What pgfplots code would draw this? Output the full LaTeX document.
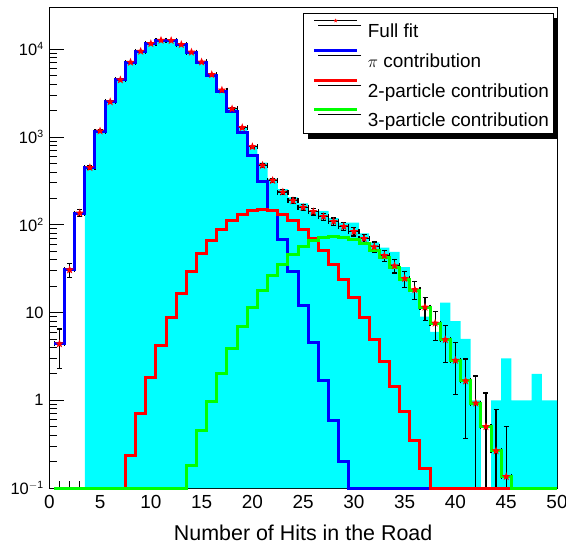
\documentclass[border=0pt]{standalone}
\usepackage{fontspec}
\setmainfont{Liberation Sans}
\usepackage{pgfplots}
\pgfplotsset{compat=1.18}
\usepackage{pgfplotstable}
\usetikzlibrary{shadows}

\definecolor{rootcyan}{RGB}{0,255,255}
\definecolor{rootblue}{RGB}{0,0,255}
\definecolor{rootred}{RGB}{255,0,0}
\definecolor{rootgreen}{RGB}{0,255,0}

% filled five-pointed star marker
\pgfdeclareplotmark{fstar}{%
  \pgfpathmoveto{\pgfpointpolar{90}{\pgfplotmarksize}}%
  \pgfpathlineto{\pgfpointpolar{126}{0.42\pgfplotmarksize}}%
  \pgfpathlineto{\pgfpointpolar{162}{\pgfplotmarksize}}%
  \pgfpathlineto{\pgfpointpolar{198}{0.42\pgfplotmarksize}}%
  \pgfpathlineto{\pgfpointpolar{234}{\pgfplotmarksize}}%
  \pgfpathlineto{\pgfpointpolar{270}{0.42\pgfplotmarksize}}%
  \pgfpathlineto{\pgfpointpolar{306}{\pgfplotmarksize}}%
  \pgfpathlineto{\pgfpointpolar{342}{0.42\pgfplotmarksize}}%
  \pgfpathlineto{\pgfpointpolar{18}{\pgfplotmarksize}}%
  \pgfpathlineto{\pgfpointpolar{54}{0.42\pgfplotmarksize}}%
  \pgfpathclose
  \pgfusepathqfill}

% measured histogram (left bin edge, entries); 0.1 marks an empty bin
\pgfplotstableread{
x    v
3.5  450
4.5  1175
5.5  2530
6.5  4470
7.5  7120
8.5  9500
9.5  11600
10.5 12700
11.5 12600
12.5 11300
13.5 9300
14.5 7150
15.5 5150
16.5 3430
17.5 2100
18.5 1290
19.5 794
20.5 510
21.5 336
22.5 254
23.5 205
24.5 175
25.5 144
26.5 144
27.5 119
28.5 106
29.5 106
30.5 80
31.5 63
32.5 55
33.5 49
34.5 33
35.5 17
36.5 9
37.5 6
38.5 13
39.5 8
40.5 5
41.5 1
42.5 0.1
43.5 1
44.5 3
45.5 1
46.5 1
47.5 2
48.5 1
49.5 1
50   1
}\datahist

% fit components per bin (left bin edge); 0.1 marks an empty bin
\pgfplotstableread{
x    pi     two    three
0.5  4.4    0.1    0.1
1.5  30.6   0.1    0.1
2.5  136    0.1    0.1
3.5  448    0.1    0.1
4.5  1170   0.1    0.1
5.5  2520   0.1    0.1
6.5  4480   0.1    0.1
7.5  7110   0.237  0.1
8.5  9490   0.705  0.1
9.5  11600  1.8    0.1
10.5 12650  4.25   0.1
11.5 12570  8.85   0.1
12.5 11300  16.6   0.1
13.5 9240   29.2   0.18
14.5 7110   47.2   0.448
15.5 5070   67     0.98
16.5 3330   89     2.04
17.5 1975   113    3.87
18.5 1140   132    6.9
19.5 620    144    11.5
20.5 308    149    17.8
21.5 147    147    26.3
22.5 68.7   132    35.7
23.5 29.2   113    45.6
24.5 12     89     56.7
25.5 4.6    70     66
26.5 1.69   50.7   71.8
27.5 0.59   35.1   73
28.5 0.203  23.5   71.8
29.5 0.1    14.7   68.8
30.5 0.1    8.7    61
31.5 0.1    4.98   51
32.5 0.1    2.73   41.8
33.5 0.1    1.44   32.7
34.5 0.1    0.736  23.7
35.5 0.1    0.351  17.8
36.5 0.1    0.167  11.3
37.5 0.1    0.1    7.56
38.5 0.1    0.1    4.9
39.5 0.1    0.1    2.85
40.5 0.1    0.1    1.66
41.5 0.1    0.1    0.93
42.5 0.1    0.1    0.50
43.5 0.1    0.1    0.265
44.5 0.1    0.1    0.135
45.5 0.1    0.1    0.1
46.5 0.1    0.1    0.1
47.5 0.1    0.1    0.1
48.5 0.1    0.1    0.1
49.5 0.1    0.1    0.1
50   0.1    0.1    0.1
}\datacomp

% full fit per bin centre with its error (lower error cut at the axis floor)
\pgfplotstableread{
x   y      ep     em
1   4.4    2.10   2.10
2   30.6   5.53   5.53
3   136    11.66  11.66
4   448    21.2   21.2
5   1170   34.2   34.2
6   2520   50.2   50.2
7   4480   66.9   66.9
8   7110   84.3   84.3
9   9491   97.4   97.4
10  11602  107.7  107.7
11  12654  112.5  112.5
12  12579  112.2  112.2
13  11317  106.4  106.4
14  9269   96.3   96.3
15  7158   84.6   84.6
16  5138   71.7   71.7
17  3421   58.5   58.5
18  2092   45.7   45.7
19  1279   35.8   35.8
20  776    27.9   27.9
21  475    21.8   21.8
22  320    17.9   17.9
23  236    15.4   15.4
24  188    13.7   13.7
25  158    12.6   12.6
26  141    11.9   11.9
27  124    11.1   11.1
28  109    10.4   10.4
29  95.5   9.77   9.77
30  83.5   9.14   9.14
31  69.7   8.35   8.35
32  56     7.48   7.48
33  44.5   6.67   6.67
34  34.1   5.84   5.84
35  24.4   4.94   4.94
36  18.2   4.27   4.27
37  11.5   3.39   3.39
38  7.56   2.75   2.75
39  4.9    2.21   2.21
40  2.85   1.69   1.69
41  1.66   1.29   1.29
42  0.93   0.96   0.83
43  0.50   0.71   0.40
44  0.265  0.515  0.165
45  0.135  0.367  0.035
}\datafit

\begin{document}
\begin{tikzpicture}
\begin{axis}[
  scale only axis, width=507.7bp, height=481bp,
  xmin=0, xmax=50, ymode=log, ymin=0.1, ymax=30300,
  log origin y=infty,
  clip=false,
  axis line style={line width=0.8bp},
  every tick/.style={black, line width=0.8bp},
  tick pos=left, tick align=inside,
  major tick length=15bp, minor tick length=7.5bp,
  xtick={0,5,...,50}, minor x tick num=4,
  ytick={0.1,1,10,100,1000,10000},
  yticklabels={10\textsuperscript{\fontsize{10.5}{10.5}\selectfont$-$1},1,10,%
    10\textsuperscript{\fontsize{10.5}{10.5}\selectfont 2},%
    10\textsuperscript{\fontsize{10.5}{10.5}\selectfont 3},%
    10\textsuperscript{\fontsize{10.5}{10.5}\selectfont 4}},
  /pgf/number format/assume math mode=true,
  xticklabel style={font=\fontsize{19}{19}\selectfont, anchor=base, yshift=-20bp},
  yticklabel style={font=\fontsize{16.5}{16.5}\selectfont, anchor=east, inner sep=0pt, xshift=-5.5bp},
  xlabel={Number of Hits in the Road},
  xlabel style={font=\fontsize{21.5}{21.5}\selectfont, at={(axis description cs:0.5,0)}, anchor=base, yshift=-52bp},
  legend cell align=left,
  legend style={at={(0.9927,0.9875)}, anchor=north east, draw=black, line width=0.8bp,
    fill=white, inner xsep=4bp, inner ysep=2.3bp, row sep=3.2bp,
    font=\fontsize{19}{19}\selectfont,
    nodes={inner xsep=0pt, inner ysep=0pt, text height=22bp, text depth=4.5bp},
    /tikz/every odd column/.append style={column sep=9.3bp},
    drop shadow={shadow xshift=4bp, shadow yshift=-5bp, fill=black, opacity=1}},
]
% measured entries
\addplot[forget plot, const plot, fill=rootcyan, draw=none] table[x=x, y=v] {\datahist} \closedcycle;

% full fit with errors
\addplot[forget plot, only marks, mark=fstar, mark size=4.4bp, color=rootred,
  error bars/.cd, x dir=both, x fixed=0.5, y dir=both, y explicit,
  error bar style={black, line width=1.2bp},
  error mark options={black, line width=1.2bp, mark size=2.5bp, rotate=90}]
  table[x=x, y=y, y error plus=ep, y error minus=em] {\datafit};

% fit components
\addplot[forget plot, const plot, rootblue, line width=3bp] table[x=x, y=pi] {\datacomp};
\addplot[forget plot, const plot, rootred, line width=3bp] table[x=x, y=two] {\datacomp};
\addplot[forget plot, const plot, rootgreen, line width=3bp] table[x=x, y=three] {\datacomp};

\addlegendimage{legend image code/.code={%
  \path (-6bp,0bp) (43bp,0bp);
  \draw[black, line width=1bp] (0bp,8.3bp) -- (43bp,8.3bp);
  \draw[rootred, mark=fstar, mark size=2.2bp] plot coordinates {(21.5bp,8.3bp)};}}
\addlegendentry{Full fit}
\addlegendimage{legend image code/.code={%
  \path (-6bp,0bp);
  \draw[rootblue, line width=3bp] (0bp,8.3bp) -- (43bp,8.3bp);}}
\addlegendentry{$\pi$ contribution}
\addlegendimage{legend image code/.code={%
  \path (-6bp,0bp);
  \draw[rootred, line width=3bp] (0bp,8.3bp) -- (43bp,8.3bp);}}
\addlegendentry{2-particle contribution}
\addlegendimage{legend image code/.code={%
  \path (-6bp,0bp);
  \draw[rootgreen, line width=3bp] (0bp,8.3bp) -- (43bp,8.3bp);}}
\addlegendentry{3-particle contribution}
\end{axis}
\pgfresetboundingbox
\path[use as bounding box] ([shift={(-49.3bp,-58bp)}]current axis.south west)
  rectangle ([shift={(9bp,7bp)}]current axis.north east);
\end{tikzpicture}
\end{document}
